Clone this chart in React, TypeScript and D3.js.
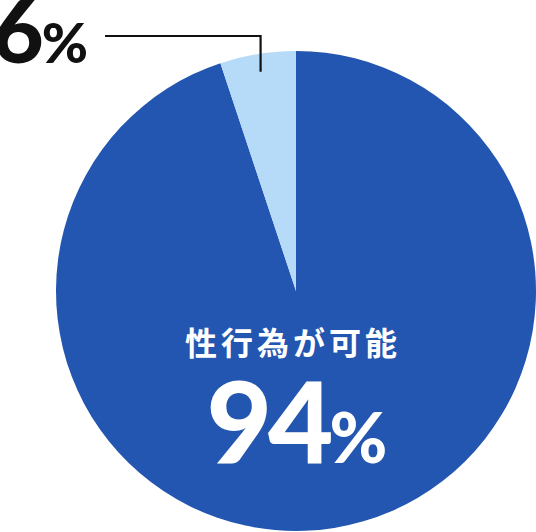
import React, { useEffect, useRef } from 'react'
import * as d3 from 'd3'

// slice shares as drawn (the small slice is ~18 degrees wide)
const categories = ['性行為が可能', 'その他']
const sliceValues = [94.9, 5.1]
const sliceLabels = ['94%', '6%']
const colors = ['#2356b0', '#b5dbf8']

export default function App() {
    const ref = useRef<SVGSVGElement>(null)

    let width = 536, height = 532
    let cx = 296, cy = 291, radius = 240

    useEffect(() => {
        const svg = d3.select(ref.current)
        svg.selectAll('*').remove()

        const pie = d3.pie<number>().sort(null).value((d) => d)
        const arcs = pie(sliceValues)
        const arc = d3.arc<d3.PieArcDatum<number>>().innerRadius(0).outerRadius(radius)

        const g = svg.append('g').attr('transform', 'translate(' + cx + ',' + cy + ')')

        g.selectAll('path')
            .data(arcs)
            .enter()
            .append('path')
            .attr('d', arc)
            .attr('fill', (d, i) => colors[i])

        // leader for the small slice
        const small = arcs[1]
        const mid = (small.startAngle + small.endAngle) / 2
        const r2 = radius - 18
        const px = Math.sin(mid) * r2
        const py = -Math.cos(mid) * r2
        const lineY = 36 - cy
        g.append('path')
            .attr('d', 'M' + px + ',' + py + 'V' + lineY + 'H' + (105 - cx))
            .attr('fill', 'none')
            .attr('stroke', '#111')
            .attr('stroke-width', 2.2)

        const small_label = svg.append('text')
            .attr('x', 88)
            .attr('y', 63)
            .attr('text-anchor', 'end')
            .attr('fill', '#111')
            .style('font-family', 'Lato, "Noto Sans", sans-serif')
            .style('font-weight', 900)
        small_label.append('tspan')
            .style('font-size', '88px')
            .attr('letter-spacing', '-2')
            .text(sliceLabels[1].replace('%', ''))
        small_label.append('tspan')
            .style('font-size', '56px')
            .text('%')

        // labels inside the big slice
        svg.append('text')
            .attr('x', 293)
            .attr('y', 355)
            .attr('text-anchor', 'middle')
            .attr('fill', '#fff')
            .attr('letter-spacing', '4')
            .style('font-family', '"Noto Sans CJK JP", sans-serif')
            .style('font-weight', 700)
            .style('font-size', '32px')
            .text(categories[0])

        const big = svg.append('text')
            .attr('x', 297)
            .attr('y', 463)
            .attr('text-anchor', 'middle')
            .attr('fill', '#fff')
            .style('font-family', 'Lato, "Noto Sans", sans-serif')
            .style('font-weight', 900)
        big.append('tspan')
            .style('font-size', '113px')
            .attr('letter-spacing', '-4')
            .text(sliceLabels[0].replace('%', ''))
        big.append('tspan')
            .style('font-size', '70px')
            .text('%')
    }, [])

    return (
        <svg ref={ref} width={width} height={height}
            style={{ position: 'absolute', left: 0, top: 0, display: 'block', background: '#fff' }} />
    )
}
